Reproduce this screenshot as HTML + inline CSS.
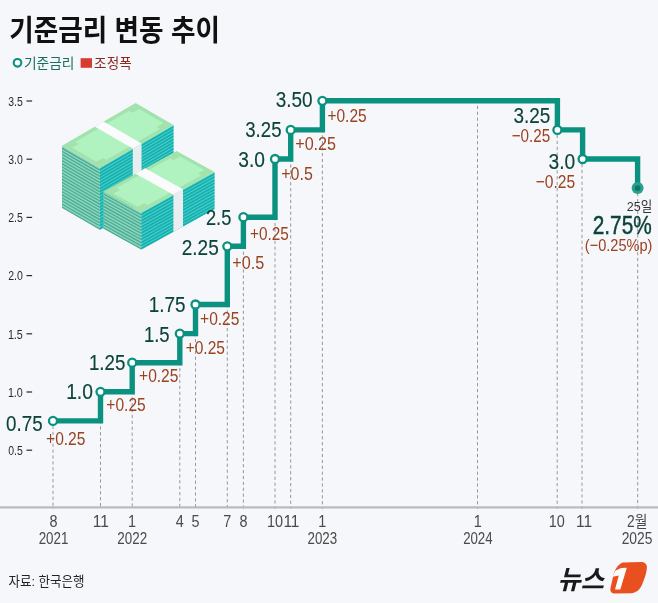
<!DOCTYPE html>
<html lang="ko"><head><meta charset="utf-8"><title>기준금리 변동 추이</title>
<style>
html,body{margin:0;padding:0;background:#f6f7fb;}
body{width:658px;height:603px;overflow:hidden;}
svg{display:block;}
text{font-family:"Liberation Sans","Noto Sans CJK KR","NanumGothic",sans-serif;}
.val{fill:#0c433a;stroke:#0c433a;stroke-width:0.15px;}
.chg{fill:#9b421f;}
.axm{fill:#4a4a4a;}
.yl{fill:#2a2a2a;}
</style></head><body>
<svg width="658" height="603" viewBox="0 0 658 603">
<rect x="0" y="0" width="658" height="603" fill="#f6f7fb"/>

<text class="ko" x="9.26" y="40.7" font-size="29" textLength="210.70" lengthAdjust="spacingAndGlyphs" font-weight="700" fill="#111">기준금리 변동 추이</text>
<circle cx="17.5" cy="62.8" r="3.8" fill="#fff" stroke="#0a917f" stroke-width="2.1"/>
<text class="ko" x="23.96" y="68.2" font-size="13.5" textLength="50.51" lengthAdjust="spacingAndGlyphs" fill="#17705f">기준금리</text>
<rect x="80.6" y="58.2" width="11.4" height="9.6" fill="#d63c30"/>
<text class="ko" x="94.12" y="68.2" font-size="13.5" textLength="37.60" lengthAdjust="spacingAndGlyphs" fill="#8a2a22">조정폭</text>
<text class="yl" x="8.29" y="455.0" font-size="13" textLength="14.55" lengthAdjust="spacingAndGlyphs">0.5</text>
<rect x="26.5" y="449.6" width="5.6" height="1.2" fill="#2c2c2c"/>
<text class="yl" x="7.88" y="396.8" font-size="13" textLength="14.94" lengthAdjust="spacingAndGlyphs">1.0</text>
<rect x="26.5" y="391.4" width="5.6" height="1.2" fill="#2c2c2c"/>
<text class="yl" x="7.88" y="338.6" font-size="13" textLength="14.97" lengthAdjust="spacingAndGlyphs">1.5</text>
<rect x="26.5" y="333.2" width="5.6" height="1.2" fill="#2c2c2c"/>
<text class="yl" x="8.17" y="280.4" font-size="13" textLength="14.64" lengthAdjust="spacingAndGlyphs">2.0</text>
<rect x="26.5" y="275.0" width="5.6" height="1.2" fill="#2c2c2c"/>
<text class="yl" x="8.17" y="222.2" font-size="13" textLength="14.67" lengthAdjust="spacingAndGlyphs">2.5</text>
<rect x="26.5" y="216.8" width="5.6" height="1.2" fill="#2c2c2c"/>
<text class="yl" x="8.30" y="164.0" font-size="13" textLength="14.50" lengthAdjust="spacingAndGlyphs">3.0</text>
<rect x="26.5" y="158.6" width="5.6" height="1.2" fill="#2c2c2c"/>
<text class="yl" x="8.30" y="105.8" font-size="13" textLength="14.54" lengthAdjust="spacingAndGlyphs">3.5</text>
<rect x="26.5" y="100.4" width="5.6" height="1.2" fill="#2c2c2c"/>
<polygon points="62,145.8 99.9,167.70000000000005 99.9,229.70000000000005 62,207.8" fill="#86d6b8"/>
<polygon points="99.9,167.70000000000005 173.5,124.9 173.5,186.9 99.9,229.70000000000005" fill="#4fd0c4"/>
<polygon points="62,147.60 99.9,169.50 99.9,170.80 62,148.90" fill="#4aa694"/>
<polygon points="99.9,168.79 173.5,125.98 173.5,128.00 99.9,170.80" fill="#14b0b3"/>
<polygon points="62,150.70 99.9,172.60 99.9,173.90 62,152.00" fill="#4aa694"/>
<polygon points="99.9,171.89 173.5,129.09 173.5,131.10 99.9,173.90" fill="#14b0b3"/>
<polygon points="62,153.80 99.9,175.70 99.9,177.00 62,155.10" fill="#4aa694"/>
<polygon points="99.9,174.99 173.5,132.19 173.5,134.20 99.9,177.00" fill="#14b0b3"/>
<polygon points="62,156.90 99.9,178.80 99.9,180.10 62,158.20" fill="#4aa694"/>
<polygon points="99.9,178.09 173.5,135.28 173.5,137.30 99.9,180.10" fill="#14b0b3"/>
<polygon points="62,160.00 99.9,181.90 99.9,183.20 62,161.30" fill="#4aa694"/>
<polygon points="99.9,181.19 173.5,138.38 173.5,140.40 99.9,183.20" fill="#14b0b3"/>
<polygon points="62,163.10 99.9,185.00 99.9,186.30 62,164.40" fill="#4aa694"/>
<polygon points="99.9,184.29 173.5,141.49 173.5,143.50 99.9,186.30" fill="#14b0b3"/>
<polygon points="62,166.20 99.9,188.10 99.9,189.40 62,167.50" fill="#4aa694"/>
<polygon points="99.9,187.39 173.5,144.59 173.5,146.60 99.9,189.40" fill="#14b0b3"/>
<polygon points="62,169.30 99.9,191.20 99.9,192.50 62,170.60" fill="#4aa694"/>
<polygon points="99.9,190.49 173.5,147.69 173.5,149.70 99.9,192.50" fill="#14b0b3"/>
<polygon points="62,172.40 99.9,194.30 99.9,195.60 62,173.70" fill="#4aa694"/>
<polygon points="99.9,193.59 173.5,150.78 173.5,152.80 99.9,195.60" fill="#14b0b3"/>
<polygon points="62,175.50 99.9,197.40 99.9,198.70 62,176.80" fill="#4aa694"/>
<polygon points="99.9,196.69 173.5,153.89 173.5,155.90 99.9,198.70" fill="#14b0b3"/>
<polygon points="62,178.60 99.9,200.50 99.9,201.80 62,179.90" fill="#4aa694"/>
<polygon points="99.9,199.79 173.5,156.99 173.5,159.00 99.9,201.80" fill="#14b0b3"/>
<polygon points="62,181.70 99.9,203.60 99.9,204.90 62,183.00" fill="#4aa694"/>
<polygon points="99.9,202.89 173.5,160.09 173.5,162.10 99.9,204.90" fill="#14b0b3"/>
<polygon points="62,184.80 99.9,206.70 99.9,208.00 62,186.10" fill="#4aa694"/>
<polygon points="99.9,205.99 173.5,163.19 173.5,165.20 99.9,208.00" fill="#14b0b3"/>
<polygon points="62,187.90 99.9,209.80 99.9,211.10 62,189.20" fill="#4aa694"/>
<polygon points="99.9,209.09 173.5,166.29 173.5,168.30 99.9,211.10" fill="#14b0b3"/>
<polygon points="62,191.00 99.9,212.90 99.9,214.20 62,192.30" fill="#4aa694"/>
<polygon points="99.9,212.19 173.5,169.38 173.5,171.40 99.9,214.20" fill="#14b0b3"/>
<polygon points="62,194.10 99.9,216.00 99.9,217.30 62,195.40" fill="#4aa694"/>
<polygon points="99.9,215.29 173.5,172.49 173.5,174.50 99.9,217.30" fill="#14b0b3"/>
<polygon points="62,197.20 99.9,219.10 99.9,220.40 62,198.50" fill="#4aa694"/>
<polygon points="99.9,218.39 173.5,175.59 173.5,177.60 99.9,220.40" fill="#14b0b3"/>
<polygon points="62,200.30 99.9,222.20 99.9,223.50 62,201.60" fill="#4aa694"/>
<polygon points="99.9,221.49 173.5,178.69 173.5,180.70 99.9,223.50" fill="#14b0b3"/>
<polygon points="62,203.40 99.9,225.30 99.9,226.60 62,204.70" fill="#4aa694"/>
<polygon points="99.9,224.59 173.5,181.79 173.5,183.80 99.9,226.60" fill="#14b0b3"/>
<polygon points="62,206.50 99.9,228.40 99.9,229.70 62,207.80" fill="#4aa694"/>
<polygon points="99.9,227.69 173.5,184.88 173.5,186.90 99.9,229.70" fill="#14b0b3"/>
<polygon points="62,145.8 135.6,103 173.5,124.9 99.9,167.70000000000005" fill="#a2e2ac"/>
<polygon points="75.3,142.0 129.1,110.7 132.5,112.7 139.1,108.9 163.4,122.9 156.7,126.7 160.2,128.7 106.4,160.0 103.0,158.0 96.4,161.8 72.1,147.8 78.8,144.0" fill="#b0f2c0"/>
<polygon points="94.9,126.7 103.6,121.6 141.5,143.5 132.8,148.6" fill="#fbfbfd"/>
<polygon points="132.8,148.6 141.5,143.5 141.5,205.5 132.8,210.6" fill="#e9edf0"/>
<polygon points="103.4,191.4 141.29999999999998,212.4 141.29999999999998,249.60000000000002 103.4,228.60000000000002" fill="#86d6b8"/>
<polygon points="141.29999999999998,212.4 214.5,171.9 214.5,209.10000000000002 141.29999999999998,249.60000000000002" fill="#4fd0c4"/>
<polygon points="103.4,193.20 141.29999999999998,214.20 141.29999999999998,215.50 103.4,194.50" fill="#4aa694"/>
<polygon points="141.29999999999998,213.49 214.5,172.99 214.5,175.00 141.29999999999998,215.50" fill="#14b0b3"/>
<polygon points="103.4,196.30 141.29999999999998,217.30 141.29999999999998,218.60 103.4,197.60" fill="#4aa694"/>
<polygon points="141.29999999999998,216.59 214.5,176.09 214.5,178.10 141.29999999999998,218.60" fill="#14b0b3"/>
<polygon points="103.4,199.40 141.29999999999998,220.40 141.29999999999998,221.70 103.4,200.70" fill="#4aa694"/>
<polygon points="141.29999999999998,219.69 214.5,179.19 214.5,181.20 141.29999999999998,221.70" fill="#14b0b3"/>
<polygon points="103.4,202.50 141.29999999999998,223.50 141.29999999999998,224.80 103.4,203.80" fill="#4aa694"/>
<polygon points="141.29999999999998,222.78 214.5,182.28 214.5,184.30 141.29999999999998,224.80" fill="#14b0b3"/>
<polygon points="103.4,205.60 141.29999999999998,226.60 141.29999999999998,227.90 103.4,206.90" fill="#4aa694"/>
<polygon points="141.29999999999998,225.88 214.5,185.38 214.5,187.40 141.29999999999998,227.90" fill="#14b0b3"/>
<polygon points="103.4,208.70 141.29999999999998,229.70 141.29999999999998,231.00 103.4,210.00" fill="#4aa694"/>
<polygon points="141.29999999999998,228.99 214.5,188.49 214.5,190.50 141.29999999999998,231.00" fill="#14b0b3"/>
<polygon points="103.4,211.80 141.29999999999998,232.80 141.29999999999998,234.10 103.4,213.10" fill="#4aa694"/>
<polygon points="141.29999999999998,232.09 214.5,191.59 214.5,193.60 141.29999999999998,234.10" fill="#14b0b3"/>
<polygon points="103.4,214.90 141.29999999999998,235.90 141.29999999999998,237.20 103.4,216.20" fill="#4aa694"/>
<polygon points="141.29999999999998,235.19 214.5,194.69 214.5,196.70 141.29999999999998,237.20" fill="#14b0b3"/>
<polygon points="103.4,218.00 141.29999999999998,239.00 141.29999999999998,240.30 103.4,219.30" fill="#4aa694"/>
<polygon points="141.29999999999998,238.28 214.5,197.78 214.5,199.80 141.29999999999998,240.30" fill="#14b0b3"/>
<polygon points="103.4,221.10 141.29999999999998,242.10 141.29999999999998,243.40 103.4,222.40" fill="#4aa694"/>
<polygon points="141.29999999999998,241.39 214.5,200.89 214.5,202.90 141.29999999999998,243.40" fill="#14b0b3"/>
<polygon points="103.4,224.20 141.29999999999998,245.20 141.29999999999998,246.50 103.4,225.50" fill="#4aa694"/>
<polygon points="141.29999999999998,244.49 214.5,203.99 214.5,206.00 141.29999999999998,246.50" fill="#14b0b3"/>
<polygon points="103.4,227.30 141.29999999999998,248.30 141.29999999999998,249.60 103.4,228.60" fill="#4aa694"/>
<polygon points="141.29999999999998,247.59 214.5,207.09 214.5,209.10 141.29999999999998,249.60" fill="#14b0b3"/>
<polygon points="103.4,191.4 176.6,150.9 214.5,171.9 141.29999999999998,212.4" fill="#a2e2ac"/>
<polygon points="116.7,187.8 170.1,158.3 173.5,160.1 180.1,156.5 204.4,169.9 197.8,173.6 201.2,175.5 147.8,205.0 144.4,203.2 137.8,206.8 113.5,193.4 120.1,189.7" fill="#b0f2c0"/>
<polygon points="135.5,173.7 145.1,168.3 183.0,189.3 173.4,194.7" fill="#fbfbfd"/>
<polygon points="173.4,194.7 183.0,189.3 183.0,226.5 173.4,231.9" fill="#e9edf0"/>
<line x1="53" y1="425.9" x2="53" y2="509" stroke="#8c8c8c" stroke-width="0.9" stroke-dasharray="3.2 2.7"/>
<line x1="100.5" y1="396.8" x2="100.5" y2="509" stroke="#8c8c8c" stroke-width="0.9" stroke-dasharray="3.2 2.7"/>
<line x1="132.2" y1="367.7" x2="132.2" y2="509" stroke="#8c8c8c" stroke-width="0.9" stroke-dasharray="3.2 2.7"/>
<line x1="179.8" y1="338.6" x2="179.8" y2="509" stroke="#8c8c8c" stroke-width="0.9" stroke-dasharray="3.2 2.7"/>
<line x1="195.5" y1="309.5" x2="195.5" y2="509" stroke="#8c8c8c" stroke-width="0.9" stroke-dasharray="3.2 2.7"/>
<line x1="227.3" y1="251.3" x2="227.3" y2="509" stroke="#8c8c8c" stroke-width="0.9" stroke-dasharray="3.2 2.7"/>
<line x1="243.4" y1="222.2" x2="243.4" y2="509" stroke="#8c8c8c" stroke-width="0.9" stroke-dasharray="3.2 2.7"/>
<line x1="275" y1="164.0" x2="275" y2="509" stroke="#8c8c8c" stroke-width="0.9" stroke-dasharray="3.2 2.7"/>
<line x1="290.7" y1="134.9" x2="290.7" y2="509" stroke="#8c8c8c" stroke-width="0.9" stroke-dasharray="3.2 2.7"/>
<line x1="322.4" y1="105.8" x2="322.4" y2="509" stroke="#8c8c8c" stroke-width="0.9" stroke-dasharray="3.2 2.7"/>
<line x1="477.5" y1="105.8" x2="477.5" y2="509" stroke="#8c8c8c" stroke-width="0.9" stroke-dasharray="3.2 2.7"/>
<line x1="557.2" y1="134.9" x2="557.2" y2="509" stroke="#8c8c8c" stroke-width="0.9" stroke-dasharray="3.2 2.7"/>
<line x1="582" y1="164.0" x2="582" y2="509" stroke="#8c8c8c" stroke-width="0.9" stroke-dasharray="3.2 2.7"/>
<line x1="637.7" y1="193.1" x2="637.7" y2="509" stroke="#8c8c8c" stroke-width="0.9" stroke-dasharray="3.2 2.7"/>
<rect x="0" y="506.3" width="658" height="2.2" fill="#b9b9c1"/>
<path d="M53,420.9 H100.5 V391.8 H132.2 V362.7 H179.8 V333.6 H195.5 V304.5 H227.3 V246.3 H243.4 V217.2 H275 V159.0 H290.7 V129.9 H322.4 V100.8 H557.4 V129.9 H582.6 V159.0 H637.6 V188.1" fill="none" stroke="#0a917f" stroke-width="5.4" stroke-linejoin="miter"/>
<circle cx="53" cy="420.9" r="4" fill="#fff" stroke="#0a917f" stroke-width="2.3"/>
<circle cx="100.5" cy="391.8" r="4" fill="#fff" stroke="#0a917f" stroke-width="2.3"/>
<circle cx="132.2" cy="362.7" r="4" fill="#fff" stroke="#0a917f" stroke-width="2.3"/>
<circle cx="179.8" cy="333.6" r="4" fill="#fff" stroke="#0a917f" stroke-width="2.3"/>
<circle cx="195.5" cy="304.5" r="4" fill="#fff" stroke="#0a917f" stroke-width="2.3"/>
<circle cx="227.3" cy="246.3" r="4" fill="#fff" stroke="#0a917f" stroke-width="2.3"/>
<circle cx="243.4" cy="217.2" r="4" fill="#fff" stroke="#0a917f" stroke-width="2.3"/>
<circle cx="275" cy="159.0" r="4" fill="#fff" stroke="#0a917f" stroke-width="2.3"/>
<circle cx="290.7" cy="129.9" r="4" fill="#fff" stroke="#0a917f" stroke-width="2.3"/>
<circle cx="322.4" cy="100.8" r="4" fill="#fff" stroke="#0a917f" stroke-width="2.3"/>
<circle cx="557.4" cy="129.9" r="4" fill="#fff" stroke="#0a917f" stroke-width="2.3"/>
<circle cx="582.6" cy="159.0" r="4" fill="#fff" stroke="#0a917f" stroke-width="2.3"/>
<circle cx="637.6" cy="188.1" r="6" fill="#2aa18d"/>
<circle cx="637.6" cy="188.1" r="2.9" fill="#0e7868"/>
<text class="val" x="6.07" y="430.8" font-size="22.8" textLength="36.52" lengthAdjust="spacingAndGlyphs">0.75</text>
<text class="val" x="66.13" y="399.3" font-size="22.8" textLength="26.82" lengthAdjust="spacingAndGlyphs">1.0</text>
<text class="val" x="88.98" y="370.3" font-size="22.8" textLength="36.41" lengthAdjust="spacingAndGlyphs">1.25</text>
<text class="val" x="143.89" y="341.9" font-size="22.8" textLength="25.79" lengthAdjust="spacingAndGlyphs">1.5</text>
<text class="val" x="148.86" y="311.7" font-size="22.8" textLength="36.73" lengthAdjust="spacingAndGlyphs">1.75</text>
<text class="val" x="181.75" y="254.5" font-size="22.8" textLength="36.95" lengthAdjust="spacingAndGlyphs">2.25</text>
<text class="val" x="205.98" y="224.9" font-size="22.8" textLength="25.39" lengthAdjust="spacingAndGlyphs">2.5</text>
<text class="val" x="238.37" y="166.6" font-size="22.8" textLength="26.68" lengthAdjust="spacingAndGlyphs">3.0</text>
<text class="val" x="245.29" y="136.7" font-size="22.8" textLength="36.19" lengthAdjust="spacingAndGlyphs">3.25</text>
<text class="val" x="275.68" y="106.7" font-size="22.8" textLength="36.86" lengthAdjust="spacingAndGlyphs">3.50</text>
<text class="val" x="513.48" y="123.1" font-size="22.8" textLength="36.92" lengthAdjust="spacingAndGlyphs">3.25</text>
<text class="val" x="548.57" y="169.4" font-size="22.8" textLength="26.68" lengthAdjust="spacingAndGlyphs">3.0</text>
<text class="chg" x="46.04" y="444.9" font-size="18.8" textLength="39.41" lengthAdjust="spacingAndGlyphs">+0.25</text>
<text class="chg" x="106.34" y="411.1" font-size="18.8" textLength="39.41" lengthAdjust="spacingAndGlyphs">+0.25</text>
<text class="chg" x="139.04" y="381.9" font-size="18.8" textLength="39.41" lengthAdjust="spacingAndGlyphs">+0.25</text>
<text class="chg" x="185.64" y="353.8" font-size="18.8" textLength="39.31" lengthAdjust="spacingAndGlyphs">+0.25</text>
<text class="chg" x="200.04" y="325.4" font-size="18.8" textLength="39.41" lengthAdjust="spacingAndGlyphs">+0.25</text>
<text class="chg" x="232.21" y="268.6" font-size="18.8" textLength="31.97" lengthAdjust="spacingAndGlyphs">+0.5</text>
<text class="chg" x="249.95" y="239.5" font-size="18.8" textLength="38.79" lengthAdjust="spacingAndGlyphs">+0.25</text>
<text class="chg" x="281.22" y="179.6" font-size="18.8" textLength="31.55" lengthAdjust="spacingAndGlyphs">+0.5</text>
<text class="chg" x="295.21" y="150.2" font-size="18.8" textLength="40.87" lengthAdjust="spacingAndGlyphs">+0.25</text>
<text class="chg" x="327.44" y="121.6" font-size="18.8" textLength="39.21" lengthAdjust="spacingAndGlyphs">+0.25</text>
<text class="chg" x="511.65" y="141.7" font-size="18.8" textLength="38.59" lengthAdjust="spacingAndGlyphs">−0.25</text>
<text class="chg" x="535.73" y="188.2" font-size="18.8" textLength="39.42" lengthAdjust="spacingAndGlyphs">−0.25</text>
<text class="ko" x="626.77" y="211.2" font-size="13.5" textLength="25.46" lengthAdjust="spacingAndGlyphs" fill="#333">25일</text>
<text x="592.75" y="233.7" font-size="25.5" textLength="58.99" lengthAdjust="spacingAndGlyphs" fill="#0c433a" stroke="#0c433a" stroke-width="0.45">2.75%</text>
<text class="chg" x="584.80" y="251.4" font-size="17.4" textLength="67.61" lengthAdjust="spacingAndGlyphs">(−0.25%p)</text>
<text class="axm" x="49.50" y="526.8" font-size="16" textLength="8.01" lengthAdjust="spacingAndGlyphs">8</text>
<text class="axm" x="38.63" y="543.8" font-size="16" textLength="29.72" lengthAdjust="spacingAndGlyphs">2021</text>
<text class="axm" x="92.79" y="526.8" font-size="16" textLength="16.02" lengthAdjust="spacingAndGlyphs">11</text>
<text class="axm" x="128.00" y="526.8" font-size="16" textLength="8.01" lengthAdjust="spacingAndGlyphs">1</text>
<text class="axm" x="117.33" y="543.8" font-size="16" textLength="29.74" lengthAdjust="spacingAndGlyphs">2022</text>
<text class="axm" x="175.84" y="526.8" font-size="16" textLength="8.01" lengthAdjust="spacingAndGlyphs">4</text>
<text class="axm" x="191.51" y="526.8" font-size="16" textLength="8.01" lengthAdjust="spacingAndGlyphs">5</text>
<text class="axm" x="223.29" y="526.8" font-size="16" textLength="8.01" lengthAdjust="spacingAndGlyphs">7</text>
<text class="axm" x="239.40" y="526.8" font-size="16" textLength="8.01" lengthAdjust="spacingAndGlyphs">8</text>
<text class="axm" x="267.12" y="526.8" font-size="16" textLength="16.02" lengthAdjust="spacingAndGlyphs">10</text>
<text class="axm" x="283.39" y="526.8" font-size="16" textLength="16.02" lengthAdjust="spacingAndGlyphs">11</text>
<text class="axm" x="318.20" y="526.8" font-size="16" textLength="8.01" lengthAdjust="spacingAndGlyphs">1</text>
<text class="axm" x="307.53" y="543.8" font-size="16" textLength="29.66" lengthAdjust="spacingAndGlyphs">2023</text>
<text class="axm" x="473.80" y="526.8" font-size="16" textLength="8.01" lengthAdjust="spacingAndGlyphs">1</text>
<text class="axm" x="463.13" y="543.8" font-size="16" textLength="29.45" lengthAdjust="spacingAndGlyphs">2024</text>
<text class="axm" x="548.82" y="526.8" font-size="16" textLength="16.02" lengthAdjust="spacingAndGlyphs">10</text>
<text class="axm" x="575.99" y="526.8" font-size="16" textLength="16.02" lengthAdjust="spacingAndGlyphs">11</text>
<text class="axm ko" x="627.06" y="526.6" font-size="16" textLength="20.37" lengthAdjust="spacingAndGlyphs">2월</text>
<text class="axm" x="621.65" y="543.8" font-size="16" textLength="30.78" lengthAdjust="spacingAndGlyphs">2025</text>
<text class="ko" x="8.56" y="586.2" font-size="13.2" textLength="75.92" lengthAdjust="spacingAndGlyphs" fill="#222">자료: 한국은행</text>
<text class="ko" x="0" y="0" font-size="26.5" font-weight="700" fill="#1a1a1a" transform="translate(557.5,588.8) skewX(-14)" textLength="46.5" lengthAdjust="spacingAndGlyphs">뉴스</text>
<path d="M622.6,562.5 L641,562.1 C645,562 647.2,564.5 646.9,567.8 C646.6,572 645.3,576.5 643.5,581.1 C641.2,587.5 638.5,592.5 631.5,593.3 L615.4,593.6 C611.5,593.6 609.8,591.5 610.5,588.3 L613.1,576.5 C614,572 617,564.5 622.6,562.5 Z" fill="#e8511f"/>
<path d="M626.8,567.8 L620.3,589.4 L615,589.4 L618.8,575.4 L612.6,576.7 L615.2,570.8 L621.1,568.1 Z" fill="#fdfdfd"/>
</svg></body></html>
